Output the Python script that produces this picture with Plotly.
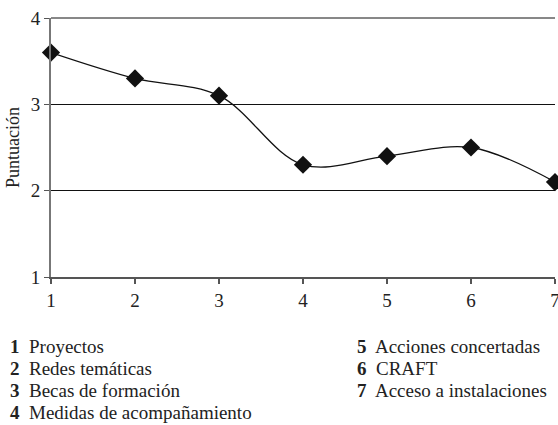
import plotly.graph_objects as go

categories = [1, 2, 3, 4, 5, 6, 7]
scores = [3.6, 3.3, 3.1, 2.3, 2.4, 2.5, 2.1]
legend_left = [("1", "Proyectos"), ("2", "Redes temáticas"), ("3", "Becas de formación"), ("4", "Medidas de acompañamiento")]
legend_right = [("5", "Acciones concertadas"), ("6", "CRAFT"), ("7", "Acceso a instalaciones")]

FONT = "Liberation Serif, Times New Roman, DejaVu Serif, serif"
W, H = 558, 425
L, R, T, B = 51, 3, 18, 148

fig = go.Figure()
fig.add_trace(go.Scatter(
    x=categories, y=scores, mode="lines+markers",
    line=dict(color="#111", width=1.3, shape="spline", smoothing=1.0),
    marker=dict(symbol="diamond", size=14, color="#111"),
    cliponaxis=False, showlegend=False,
))

# top gridline (y = 4) sits on the plot edge; draw it unclipped
fig.add_shape(type="line", xref="paper", yref="paper", x0=0, x1=1, y0=1, y1=1,
              line=dict(color="#111", width=1), layer="above")

fig.update_layout(
    width=W, height=H,
    margin=dict(l=L, r=R, t=T, b=B),
    paper_bgcolor="white", plot_bgcolor="white",
    font=dict(family=FONT, size=19, color="#222"),
    xaxis=dict(range=[1, 7], tickvals=categories, showgrid=False, zeroline=False,
               showline=True, linecolor="#555", linewidth=1.5, automargin=False,
               ticks="outside", ticklen=5, tickcolor="#555", tickwidth=1.5,
               ticklabeloverflow="allow",
               tickfont=dict(family=FONT, size=19, color="#222")),
    yaxis=dict(range=[1, 4], tickvals=[1, 2, 3, 4], showgrid=True, gridcolor="#111", gridwidth=1,
               zeroline=False, showline=True, linecolor="#777", linewidth=2, automargin=False,
               ticks="outside", ticklen=5, tickcolor="#555", ticklabelstandoff=0,
               tickfont=dict(family=FONT, size=19, color="#222"),
               title=dict(text="Puntuación", font=dict(family=FONT, size=18, color="#222"), standoff=6)),
)

def add_item(px, py, num, label):
    fig.add_annotation(xref="paper", yref="paper", x=0, y=0,
                       xshift=px - L, yshift=-(py - (H - B)),
                       xanchor="left", yanchor="middle", showarrow=False,
                       text=f"<b>{num}</b>  {label}",
                       font=dict(family=FONT, size=19, color="#222"))

rows = [346, 368, 390, 412]
for (n, lab), py in zip(legend_left, rows):
    add_item(8, py, n, lab)
for (n, lab), py in zip(legend_right, rows):
    add_item(355, py, n, lab)

fig.write_html("out.html",
               config={"displayModeBar": False},
               post_script="document.body.style.margin='0';document.body.style.overflow='hidden';")
